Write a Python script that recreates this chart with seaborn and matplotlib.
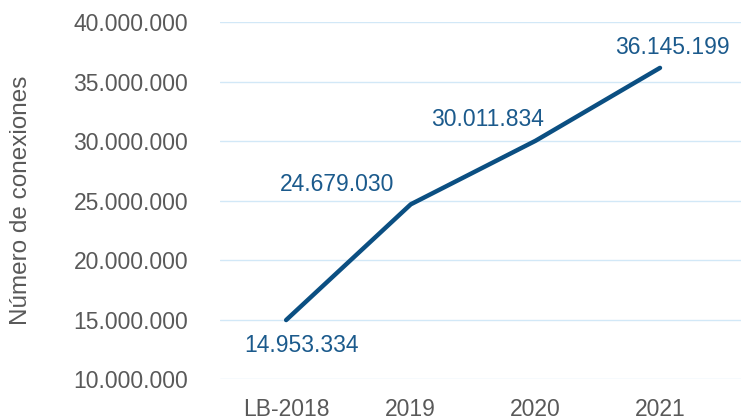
import numpy as np
import pandas as pd
import matplotlib
matplotlib.use("Agg")
import matplotlib.pyplot as plt
import seaborn as sns
from matplotlib.ticker import FuncFormatter

# Datos
anios = ["LB-2018", "2019", "2020", "2021"]
conexiones = [14953334, 24679030, 30011834, 36145199]
# desplazamiento de las etiquetas (pixeles)
offsets = [(15, -25), (-74, 20), (-48, 21), (12, 20)]

sns.set_style("white")
plt.rcParams['font.family'] = ['Liberation Sans', 'DejaVu Sans']

df = pd.DataFrame({'Año': anios, 'Conexiones': conexiones})

fig = plt.figure(figsize=(7.41, 4.20), dpi=100)
ax = fig.add_axes([0.297, 0.0976, 0.703, 0.85])

sns.lineplot(data=df, x='Año', y='Conexiones', sort=False, ax=ax,
             color='#0B4F82', lw=3.2, solid_capstyle='round')

for i, (v, (dx, dy)) in enumerate(zip(conexiones, offsets)):
    ax.annotate(f"{v:,.0f}".replace(",", "."), (i, v),
                xytext=(dx, dy), textcoords='offset pixels',
                ha='center', va='center', fontsize=16.5, color='#1B5A8C')

ax.set_ylim(10_000_000, 40_000_000)
ax.set_xlim(-0.53, 3.65)
ax.set_yticks(np.arange(10_000_000, 40_000_001, 5_000_000))
ax.yaxis.set_major_formatter(FuncFormatter(lambda v, p: f"{v:,.0f}".replace(",", ".")))
ax.grid(axis='y', color='#D2E8F7', lw=1)
ax.set_axisbelow(True)
for s in ax.spines.values():
    s.set_visible(False)
ax.tick_params(axis='both', length=0, labelsize=16.5, labelcolor='#595959')
ax.tick_params(axis='y', pad=23)
ax.tick_params(axis='x', pad=14)
ax.set_xlabel('')
ax.set_ylabel('Número de conexiones', fontsize=17.5, color='#595959')
ax.yaxis.set_label_coords(-0.362, 0.5)

fig.savefig('out.png', dpi=100)
